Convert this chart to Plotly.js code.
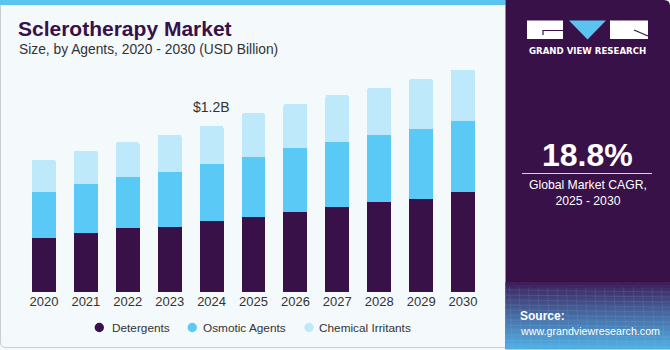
<!DOCTYPE html>
<html>
<head>
<meta charset="utf-8">
<script src="https://cdn.plot.ly/plotly-3.0.1.min.js"></script>
<style>
  html, body { margin: 0; padding: 0; background: #ffffff; }
  #chart { width: 670px; height: 350px; }
</style>
</head>
<body>
<div id="chart"></div>
<script>
// ---- data (USD Billion) ----
const years = ['2020','2021','2022','2023','2024','2025','2026','2027','2028','2029','2030'];
const detergents       = [0.393, 0.427, 0.465, 0.472, 0.511, 0.544, 0.581, 0.617, 0.651, 0.675, 0.723];
const osmoticAgents    = [0.333, 0.354, 0.364, 0.398, 0.412, 0.429, 0.463, 0.466, 0.484, 0.506, 0.513];
const chemicalIrritants= [0.229, 0.241, 0.253, 0.265, 0.277, 0.318, 0.316, 0.340, 0.340, 0.357, 0.371];
const seriesNames = ['Detergents', 'Osmotic Agents', 'Chemical Irritants'];
const calloutYear = '2024';
const calloutText = '$1.2B';
const cagrText = '18.8%';
const cagrLabel = 'Global Market CAGR,<br>2025 - 2030';

// ---- styles ----
const colors = ['#381149', '#5BC9F6', '#BDE9FA'];
const W = 670, H = 350;
const M = {l: 23, r: 186, t: 60, b: 58, autoexpand: false};
const PW = W - M.l - M.r, PH = H - M.t - M.b;
const px = x => (x - M.l) / PW;       // pixel -> paper x
const py = y => (H - M.b - y) / PH;   // pixel -> paper y

const seriesData = [detergents, osmoticAgents, chemicalIrritants];
const traces = [];
seriesData.forEach((vals, i) => {
  traces.push({
    type: 'bar', x: years, y: vals, name: seriesNames[i],
    marker: {color: colors[i], line: {width: 0}},
    showlegend: false, hoverinfo: 'x+y'
  });
});

const totals = years.map((_, i) => detergents[i] + osmoticAgents[i] + chemicalIrritants[i]);
const ci = years.indexOf(calloutYear);

const panelL = 505.5;
const shapes = [];
// chart card border
shapes.push({type:'path', xref:'paper', yref:'paper',
  path: `M ${px(panelL)} ${py(0)} L ${px(0.5)} ${py(0)} L ${px(0.5)} ${py(342)} Q ${px(0.5)} ${py(347.5)} ${px(6)} ${py(347.5)} L ${px(panelL)} ${py(347.5)}`,
  line:{color:'#c9ccd0', width:1}, fillcolor:'rgba(0,0,0,0)', layer:'below'});
// top strip
shapes.push({type:'rect', xref:'paper', yref:'paper', x0:px(0), x1:px(panelL), y0:py(0), y1:py(5),
  fillcolor:'#5BC3EF', line:{width:0}, layer:'below'});
// right panel
shapes.push({type:'path', xref:'paper', yref:'paper',
  path: `M ${px(panelL)} ${py(0)} L ${px(664)} ${py(0)} Q ${px(670)} ${py(0)} ${px(670)} ${py(6)} L ${px(670)} ${py(349)} L ${px(panelL)} ${py(349)} Z`,
  fillcolor:'#381149', line:{width:0}, layer:'below'});
// gradient at bottom of panel
const g0 = [0x3D,0x1F,0x5A], g1 = [0x4F,0xAE,0xE3];
const gTop = 282, gBot = 349, steps = 22;
for (let s = 0; s < steps; s++) {
  const t = s / (steps - 1);
  const c = g0.map((v, k) => Math.round(v + (g1[k] - v) * Math.pow(t, 0.9)));
  const y0 = gTop + (gBot - gTop) * s / steps, y1 = gTop + (gBot - gTop) * (s + 1) / steps;
  shapes.push({type:'rect', xref:'paper', yref:'paper', x0:px(panelL), x1:px(670), y0:py(y0), y1:py(y1 + 0.5),
    fillcolor:`rgb(${c[0]},${c[1]},${c[2]})`, line:{width:0}, layer:'below'});
}
// faint grid texture
for (let k = 0; k < 12; k++) {
  const yy = 290 + k * 5;
  shapes.push({type:'line', xref:'paper', yref:'paper', x0:px(panelL), x1:px(670), y0:py(yy), y1:py(yy + 2),
    line:{color:'rgba(180,210,240,0.18)', width:0.7}, layer:'below'});
}
for (let k = 0; k < 18; k++) {
  const xx = panelL + 4 + k * 9.5;
  shapes.push({type:'line', xref:'paper', yref:'paper', x0:px(xx), x1:px(xx + 3), y0:py(287), y1:py(349),
    line:{color:'rgba(180,210,240,0.15)', width:0.7}, layer:'below'});
}
// logo
shapes.push({type:'rect', xref:'paper', yref:'paper', x0:px(527), x1:px(563), y0:py(20.5), y1:py(39),
  fillcolor:'#ffffff', line:{width:0}});
shapes.push({type:'path', xref:'paper', yref:'paper',
  path:`M ${px(543)} ${py(35)} L ${px(543)} ${py(30.5)} L ${px(563)} ${py(30.5)}`,
  line:{color:'#381149', width:1.2}, fillcolor:'rgba(0,0,0,0)'});
shapes.push({type:'path', xref:'paper', yref:'paper',
  path:`M ${px(569)} ${py(20.5)} L ${px(606)} ${py(20.5)} L ${px(587.5)} ${py(39.5)} Z`,
  fillcolor:'#5BC3EF', line:{width:0}});
shapes.push({type:'rect', xref:'paper', yref:'paper', x0:px(610), x1:px(648), y0:py(20.5), y1:py(39),
  fillcolor:'#ffffff', line:{width:0}});
shapes.push({type:'line', xref:'paper', yref:'paper', x0:px(634), x1:px(648), y0:py(30), y1:py(36),
  line:{color:'#381149', width:1.2}});
// CAGR separator
shapes.push({type:'line', xref:'paper', yref:'paper', x0:px(522), x1:px(652), y0:py(173.5), y1:py(173.5),
  line:{color:'#d8d0e0', width:1}});

const ann = [];
const A = (o) => ann.push(Object.assign({xref:'paper', yref:'paper', showarrow:false}, o));
A({x:px(16), y:py(28.5), xanchor:'left', yanchor:'middle', text:'<b>Sclerotherapy Market</b>',
   font:{family:'Liberation Sans, Arial, sans-serif', size:21, color:'#381149'}});
A({x:px(17), y:py(49.5), xanchor:'left', yanchor:'middle', text:'Size, by Agents, 2020 - 2030 (USD Billion)',
   font:{family:'Liberation Sans, Arial, sans-serif', size:13.8, color:'#333333'}});
A({x:px(587.5), y:py(50.5), xanchor:'center', yanchor:'middle', text:'<b>GRAND VIEW RESEARCH</b>',
   font:{family:'DejaVu Sans, sans-serif', size:8.6, color:'#ffffff'}});
A({x:px(587.5), y:py(155), xanchor:'center', yanchor:'middle', text:'<b>'+cagrText+'</b>',
   font:{family:'Liberation Sans, Arial, sans-serif', size:32, color:'#ffffff'}});
A({x:px(587.5), y:py(193), xanchor:'center', yanchor:'middle', text:cagrLabel,
   font:{family:'Liberation Sans, Arial, sans-serif', size:12.2, color:'#ffffff'}});
A({x:px(518), y:py(315.5), xanchor:'left', yanchor:'middle', text:'<b>Source:</b>',
   font:{family:'Liberation Sans, Arial, sans-serif', size:12, color:'#ffffff'}});
A({x:px(518), y:py(330.5), xanchor:'left', yanchor:'middle', text:'www.grandviewresearch.com',
   font:{family:'Liberation Sans, Arial, sans-serif', size:10.7, color:'#ffffff'}});
// callout over 2024 bar
ann.push({xref:'x', yref:'y', x:ci, y:totals[ci], showarrow:false, yanchor:'bottom', yshift:9,
  text:calloutText, font:{family:'Liberation Sans, Arial, sans-serif', size:14, color:'#333333'}});

// legend (dots + labels)
const legDot = [99.3, 192.3, 309];
const legTxt = [110.7, 201.7, 318.3];
const legY = 327.5;
seriesNames.forEach((n, i) => {
  shapes.push({type:'circle', xref:'paper', yref:'paper',
    x0:px(legDot[i] - 4.7), x1:px(legDot[i] + 4.7), y0:py(legY - 4.7), y1:py(legY + 4.7),
    fillcolor:colors[i], line:{width:0}});
  A({x:px(legTxt[i] - 1), y:py(legY), xanchor:'left', yanchor:'middle', text:n,
     font:{family:'Liberation Sans, Arial, sans-serif', size:11.8, color:'#333333'}});
});

const layout = {
  width: W, height: H,
  margin: M,
  paper_bgcolor: '#F4F9FC', plot_bgcolor: 'rgba(0,0,0,0)',
  barmode: 'stack', bargap: 0.43, barcornerradius: 2,
  font: {family: 'Liberation Sans, Arial, sans-serif', color: '#333333'},
  xaxis: {type:'category', range:[-0.5, years.length - 0.5], showgrid:false, zeroline:false, showline:false,
          ticks:'', tickfont:{size:13, color:'#333333'}, fixedrange:true},
  yaxis: {range:[0, 1.677], visible:false, showgrid:false, zeroline:false, fixedrange:true},
  showlegend: false,
  shapes: shapes,
  annotations: ann
};

Plotly.newPlot('chart', traces, layout, {staticPlot: true, displayModeBar: false});
</script>
</body>
</html>
